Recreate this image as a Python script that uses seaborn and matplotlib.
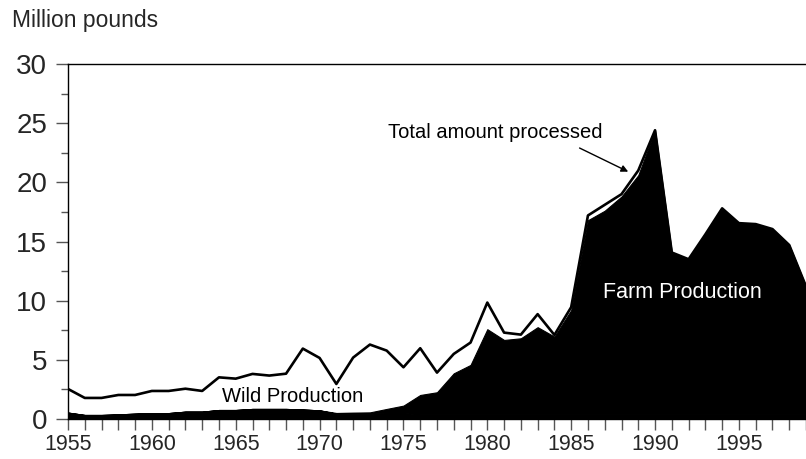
import numpy as np
import pandas as pd
import matplotlib
matplotlib.use('Agg')
import matplotlib.pyplot as plt
import seaborn as sns
from matplotlib.ticker import MultipleLocator

# Data (million pounds)
years = list(range(1955, 2000))

total_processed = [2.54, 1.78, 1.78, 2.03, 2.03, 2.37, 2.37, 2.56, 2.37, 3.52,
                   3.41, 3.81, 3.67, 3.83, 5.95, 5.16, 2.96, 5.19, 6.29, 5.78,
                   4.37, 5.98, 3.92, 5.50, 6.46, 9.84, 7.30, 7.13, 8.86, 7.10,
                   9.45, 17.2, 18.1, 19.0, 21.0, 24.4, 14.07, 13.5, 15.6, 17.8,
                   16.55, 16.47, 16.05, 14.7, 11.2]

wild_production = [0.54, 0.34, 0.34, 0.39, 0.45, 0.50, 0.50, 0.62, 0.62, 0.76,
                   0.76, 0.85, 0.85, 0.85, 0.80, 0.73, 0.45, 0.45, 0.45, 0.50,
                   0.50, 0.40, 0.40, 0.40, 0.40, 0.40, 0.40, 0.40, 0.40, 0.40,
                   0.40, 0.40, 0.40, 0.40, 0.40, 0.40, 0.40, 0.40, 0.40, 0.40,
                   0.40, 0.40, 0.40, 0.40, 0.40]

farm_production = [0.0, 0.0, 0.0, 0.0, 0.0, 0.0, 0.0, 0.0, 0.0, 0.0,
                   0.0, 0.0, 0.0, 0.0, 0.0, 0.0, 0.06, 0.09, 0.11, 0.35,
                   0.63, 1.63, 1.86, 3.46, 4.17, 7.19, 6.28, 6.42, 7.36, 6.56,
                   8.80, 16.4, 17.2, 18.4, 20.2, 24.0, 13.67, 13.1, 15.2, 17.4,
                   16.15, 16.07, 15.65, 14.3, 10.8]

df = pd.DataFrame({'year': years, 'total': total_processed,
                   'wild': wild_production, 'farm': farm_production})

sns.set_style('ticks')
plt.rcParams['font.family'] = ['Liberation Sans', 'DejaVu Sans']

fig = plt.figure(figsize=(8.06, 4.59), dpi=100)
ax = fig.add_axes([68 / 806, 1 - 419 / 459, 1 - 68 / 806, (419 - 64) / 459])

# both production layers are solid black, stacked
ax.stackplot(df['year'], df['wild'], df['farm'], colors=['black', 'black'],
             edgecolor='black', linewidth=0.8)
sns.lineplot(data=df, x='year', y='total', color='black', linewidth=1.9, ax=ax)

ax.set_xlim(1955, 1999)
ax.set_ylim(0, 30)
ax.xaxis.set_major_locator(MultipleLocator(5))
ax.xaxis.set_minor_locator(MultipleLocator(1))
ax.yaxis.set_major_locator(MultipleLocator(5))
ax.yaxis.set_minor_locator(MultipleLocator(2.5))
ax.set_xlabel('')
ax.set_ylabel('')

ax.tick_params(axis='y', which='major', labelsize=20, length=9, width=1,
               color='#555555', pad=6)
ax.tick_params(axis='y', which='minor', length=5, width=1, color='#555555')
ax.tick_params(axis='x', which='both', labelsize=15.5, length=8, width=1,
               color='#555555', pad=3)

ax.spines['right'].set_visible(False)
for s in ['left', 'top', 'bottom']:
    ax.spines[s].set_color('black')
    ax.spines[s].set_linewidth(1)

fig.text(12 / 806, 1 - 21 / 459, 'Million pounds', fontsize=16.5,
         va='center', ha='left')

ax.text(1968.4, 1.9, 'Wild Production', fontsize=14.5, ha='center',
        va='center', color='black')
ax.text(1991.6, 10.66, 'Farm Production', fontsize=15.5, ha='center',
        va='center', color='white')
ax.text(1980.5, 24.2, 'Total amount processed', fontsize=14.5, ha='center',
        va='center', color='black')
ax.annotate('', xy=(1988.4, 20.9), xytext=(1985.5, 22.9),
            arrowprops=dict(arrowstyle='-|>', color='black', lw=1,
                            shrinkA=0, shrinkB=0, mutation_scale=10))

fig.savefig('out.png', dpi=100)
